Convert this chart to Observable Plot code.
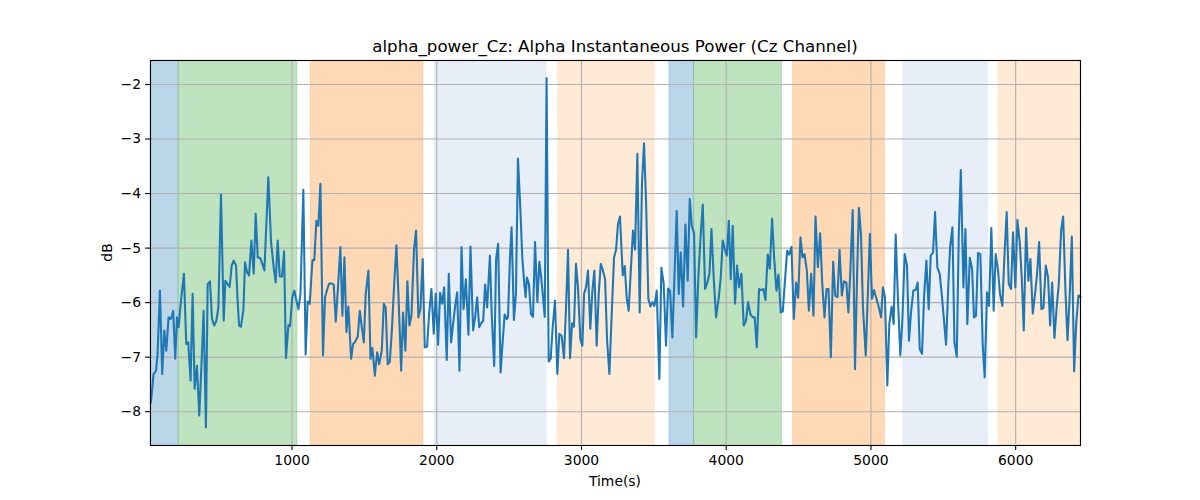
<!DOCTYPE html>
<html>
<head>
<meta charset="utf-8">
<script src="https://cdn.jsdelivr.net/npm/d3@7"></script>
<script src="https://cdn.jsdelivr.net/npm/@observablehq/plot@0.6"></script>
<style>
  html, body { margin: 0; padding: 0; background: #fff; }
  #chart { width: 1200px; height: 500px; }
</style>
</head>
<body>
<div id="chart"></div>
<script>
const title = "alpha_power_Cz: Alpha Instantaneous Power (Cz Channel)";
const xLabel = "Time(s)";
const yLabel = "dB";
const xTicks = [1000, 2000, 3000, 4000, 5000, 6000];
const yTicks = [-8, -7, -6, -5, -4, -3, -2];

const spanStart = [22, 216, 1129, 1986, 2838, 3607, 3778, 4462, 5224, 5881];
const spanEnd   = [216, 1037, 1908, 2759, 3506, 3778, 4386, 5097, 5809, 6448];
const spanColor = ["#1f77b4", "#2ca02c", "#ff7f0e", "#aec7e8", "#ffbb78",
                   "#1f77b4", "#2ca02c", "#ff7f0e", "#aec7e8", "#ffbb78"];

const times = [
  25,43,60,71,87,103,117,131,147,159,168,179,193,205,216,233,253,269,283,299,
  313,327,343,359,375,389,405,417,433,447,463,477,491,509,528,539,555,569,583,597,
  613,624,634,647,664,675,689,703,719,735,749,763,779,795,809,836,855,873,887,901,
  915,931,945,958,975,986,1002,1016,1030,1044,1058,1078,1094,1108,1122,1141,1154,1168,1182,1196,
  1214,1228,1242,1256,1274,1288,1302,1316,1334,1348,1362,1376,1389,1408,1422,1436,1454,1468,1482,1496,
  1509,1528,1542,1555,1572,1588,1602,1620,1634,1647,1661,1675,1689,1707,1721,1735,1754,1767,1783,1797,
  1811,1825,1843,1857,1873,1887,1903,1917,1933,1947,1963,1979,1993,2009,2023,2037,2051,2069,2083,2099,
  2113,2127,2141,2157,2171,2185,2201,2219,2233,2251,2265,2279,2293,2307,2321,2334,2348,2367,2380,2397,
  2410,2424,2441,2455,2469,2483,2492,2506,2517,2533,2547,2561,2575,2591,2605,2614,2623,2637,2651,2665,
  2679,2695,2709,2722,2732,2746,2759,2773,2787,2801,2817,2833,2847,2863,2879,2893,2907,2921,2935,2948,
  2962,2976,2992,3006,3018,3031,3045,3061,3075,3089,3105,3119,3133,3147,3163,3177,3193,3207,3225,3239,
  3252,3266,3285,3299,3312,3326,3342,3356,3370,3386,3402,3418,3432,3446,3462,3476,3490,3504,3520,3538,
  3552,3568,3584,3598,3612,3628,3658,3672,3686,3702,3718,3734,3748,3762,3778,3792,3808,3824,3838,3854,
  3870,3884,3898,3914,3930,3949,3962,3976,3990,4004,4018,4031,4045,4061,4075,4089,4105,4121,4137,4151,
  4167,4184,4197,4211,4227,4241,4257,4271,4287,4301,4317,4331,4347,4361,4377,4391,4405,4421,4435,4451,
  4467,4483,4497,4513,4527,4541,4557,4571,4587,4603,4617,4633,4649,4663,4679,4693,4707,4723,4739,4753,
  4769,4783,4799,4813,4830,4844,4857,4874,4890,4904,4917,4931,4945,4964,4977,4993,5007,5021,5035,5053,
  5070,5083,5097,5113,5127,5143,5157,5171,5187,5203,5217,5233,5249,5263,5277,5293,5309,5323,5337,5353,
  5367,5383,5399,5413,5429,5443,5459,5475,5489,5503,5519,5535,5547,5563,5577,5593,5607,5621,5639,5653,
  5666,5683,5699,5712,5726,5740,5756,5772,5786,5802,5816,5832,5848,5862,5878,5892,5908,5922,5938,5952,
  5968,5982,5998,6012,6028,6042,6056,6072,6088,6102,6118,6134,6148,6162,6178,6192,6208,6224,6238,6252,
  6268,6284,6298,6314,6328,6344,6358,6372,6388,6404,6418,6434,6448
];

const values = [
  -7.83,-7.31,-7.25,-6.94,-5.78,-7.31,-6.51,-6.88,-6.27,-6.30,-6.27,-6.15,-7.03,-6.27,-6.45,-5.96,-5.47,-6.76,-6.73,-7.43,
  -5.84,-7.58,-7.16,-8.07,-7.09,-6.15,-8.29,-5.66,-5.61,-6.30,-6.42,-6.33,-6.09,-4.02,-6.33,-5.60,-5.66,-5.71,-5.32,-5.23,
  -5.32,-5.96,-6.42,-6.44,-6.13,-5.26,-5.44,-5.50,-4.86,-5.47,-4.37,-5.17,-5.18,-5.29,-5.41,-3.70,-4.89,-5.35,-5.63,-4.86,
  -5.52,-5.52,-5.06,-7.02,-6.41,-6.43,-5.90,-5.78,-5.96,-6.12,-5.84,-3.93,-6.95,-5.98,-6.02,-5.22,-5.22,-4.50,-4.59,-3.82,
  -6.97,-5.90,-5.77,-5.65,-5.65,-5.67,-6.35,-5.78,-4.98,-6.24,-5.17,-6.54,-6.07,-7.03,-6.76,-6.72,-6.62,-6.15,-6.45,-6.73,
  -5.84,-5.41,-7.03,-6.83,-7.34,-6.91,-7.13,-6.88,-6.02,-6.09,-7.13,-7.09,-6.54,-5.60,-4.95,-5.84,-7.25,-6.18,-6.88,-5.61,
  -6.42,-6.24,-5.02,-4.68,-6.27,-6.12,-5.20,-6.82,-6.81,-6.21,-5.75,-6.57,-5.84,-6.77,-5.82,-6.02,-5.72,-7.05,-5.47,-6.73,
  -6.39,-6.06,-5.81,-7.25,-4.98,-6.12,-5.57,-6.59,-4.97,-6.51,-6.27,-5.90,-6.45,-6.38,-6.33,-5.67,-6.09,-5.14,-6.24,-7.16,
  -5.20,-4.92,-7.28,-6.73,-6.22,-6.30,-6.27,-5.17,-4.62,-6.32,-5.84,-3.36,-4.13,-5.17,-5.66,-5.90,-5.54,-5.66,-6.21,-6.26,
  -4.89,-5.99,-5.25,-5.54,-5.84,-6.26,-1.88,-7.08,-7.03,-6.45,-5.96,-7.31,-6.57,-6.61,-7.02,-6.09,-5.03,-7.02,-6.38,-6.44,
  -5.29,-5.72,-6.67,-6.79,-5.84,-5.72,-5.41,-6.48,-5.79,-5.41,-6.79,-5.84,-5.29,-5.40,-5.57,-6.70,-7.31,-6.32,-5.17,-5.03,
  -4.56,-4.42,-5.50,-5.33,-5.90,-6.15,-5.35,-4.68,-5.03,-3.27,-6.18,-3.82,-3.08,-4.13,-5.93,-6.07,-5.99,-6.06,-5.78,-7.40,
  -5.36,-5.65,-6.79,-5.74,-5.78,-6.64,-4.32,-5.84,-5.08,-6.07,-4.57,-5.60,-4.10,-4.59,-4.73,-6.64,-5.50,-4.74,-4.20,-5.75,
  -5.63,-5.47,-4.65,-5.57,-6.27,-5.90,-5.54,-4.86,-5.02,-5.14,-4.50,-5.57,-4.59,-6.02,-5.32,-5.72,-5.47,-6.42,-6.33,-5.99,
  -6.21,-6.27,-6.27,-6.82,-5.75,-5.77,-5.75,-5.95,-5.12,-5.38,-4.46,-5.17,-5.78,-5.49,-6.18,-6.16,-5.63,-5.05,-5.12,-4.98,
  -6.30,-5.63,-5.91,-4.80,-5.17,-5.11,-5.41,-6.15,-5.47,-6.24,-4.42,-5.35,-4.73,-5.63,-6.27,-5.75,-5.75,-7.00,-5.25,-5.87,
  -5.90,-5.03,-5.87,-5.61,-5.63,-6.18,-5.47,-4.30,-7.22,-5.52,-4.26,-4.74,-6.09,-6.97,-5.96,-4.74,-5.93,-5.77,-5.90,-6.07,
  -6.27,-5.72,-5.90,-7.52,-6.39,-6.07,-6.39,-4.75,-5.96,-6.97,-6.33,-5.11,-5.32,-6.70,-6.18,-5.78,-5.77,-5.63,-6.85,-6.94,
  -5.90,-5.23,-6.12,-5.14,-5.08,-4.34,-5.36,-5.47,-5.84,-6.27,-6.77,-5.66,-4.98,-4.62,-6.73,-6.99,-4.74,-3.57,-5.72,-4.65,
  -6.39,-5.18,-5.38,-6.27,-6.24,-5.09,-5.11,-6.76,-7.37,-5.81,-6.06,-4.63,-6.15,-5.11,-5.41,-5.84,-6.06,-5.17,-4.34,-5.65,
  -5.75,-4.71,-5.72,-4.48,-4.89,-5.54,-6.51,-4.63,-5.60,-5.20,-6.20,-5.84,-5.47,-4.89,-6.12,-6.10,-5.32,-5.54,-6.42,-5.63,
  -6.65,-6.06,-5.66,-4.68,-4.42,-5.78,-6.69,-5.96,-4.79,-7.26,-6.39,-5.87,-5.89
];

const spans = spanStart.map((s, i) => ({start: s, end: spanEnd[i], color: spanColor[i]}));
const series = times.map((t, i) => ({t, v: values[i]}));

const W = 1200, H = 500;
const mL = 150, mR = 120, mT = 60, mB = 55;
const intFmt = d3.format("d");

const svg = Plot.plot({
  width: W,
  height: H,
  marginLeft: mL,
  marginRight: mR,
  marginTop: mT,
  marginBottom: mB,
  style: {fontFamily: "DejaVu Sans", fontSize: "13.9px", color: "black", background: "white"},
  x: {domain: [22, 6448]},
  y: {domain: [-8.62, -1.56]},
  marks: [
    Plot.rect(spans, {x1: "start", x2: "end", fill: "color", fillOpacity: 0.3,
                      stroke: "color", strokeOpacity: 0.2, strokeWidth: 1}),
    Plot.gridX(xTicks, {stroke: "#b0b0b0", strokeOpacity: 1, strokeWidth: 1.1}),
    Plot.gridY(yTicks, {stroke: "#b0b0b0", strokeOpacity: 1, strokeWidth: 1.1}),
    Plot.line(series, {x: "t", y: "v", stroke: "#1f77b4", strokeWidth: 2.08,
                       strokeLinejoin: "round", strokeLinecap: "square"}),
    Plot.axisX(xTicks, {tickSize: 4.9, tickPadding: 4.5, strokeWidth: 1.1, label: null,
                        fontSize: 13.9, tickFormat: intFmt}),
    Plot.axisY(yTicks, {tickSize: 4.9, tickPadding: 4.5, strokeWidth: 1.1, label: null,
                        fontSize: 13.9, tickFormat: intFmt}),
    Plot.frame({stroke: "black", strokeWidth: 1.1})
  ]
});

const sel = d3.select(svg);
const cx = mL + (W - mL - mR) / 2;
sel.append("text")
  .attr("x", cx).attr("y", 52)
  .attr("text-anchor", "middle")
  .attr("font-family", "DejaVu Sans")
  .attr("font-size", "16.7px")
  .attr("fill", "black")
  .text(title);
sel.append("text")
  .attr("x", cx).attr("y", 481)
  .attr("dy", "0.35em")
  .attr("text-anchor", "middle")
  .attr("font-family", "DejaVu Sans")
  .attr("font-size", "13.9px")
  .attr("fill", "black")
  .text(xLabel);
sel.append("text")
  .attr("transform", `translate(107, ${mT + (H - mT - mB) / 2}) rotate(-90)`)
  .attr("dy", "0.35em")
  .attr("text-anchor", "middle")
  .attr("font-family", "DejaVu Sans")
  .attr("font-size", "13.9px")
  .attr("fill", "black")
  .text(yLabel);

document.getElementById("chart").appendChild(svg);
</script>
</body>
</html>
